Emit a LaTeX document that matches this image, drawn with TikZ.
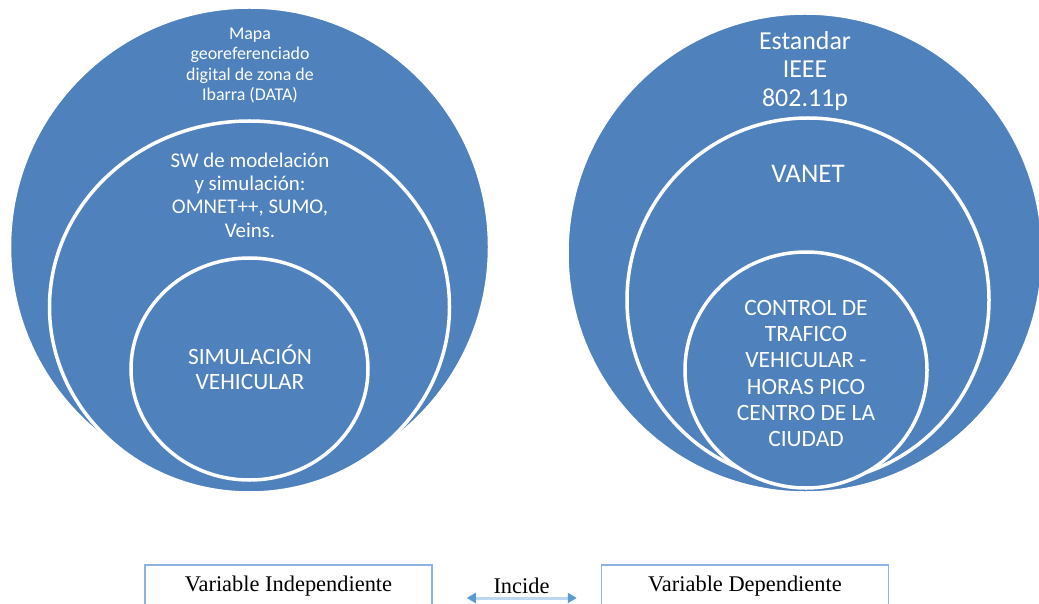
\documentclass[tikz,border=0pt]{standalone}
\usepackage{fontspec}
\setmainfont{Liberation Serif}
\newfontfamily\calibri{Carlito}
\usepackage{tikz}
\usepackage{xcolor}
\usetikzlibrary{arrows.meta}

\definecolor{target}{HTML}{4F81BD}
\definecolor{boxline}{HTML}{8EB4E3}
\definecolor{arrowline}{HTML}{BDD7EE}
\definecolor{arrowtip}{HTML}{5B9BD5}

\begin{document}
\begin{tikzpicture}[x=1bp,y=-1bp,
                    ring/.style={fill=target,draw=white,line width=3.5bp},
                    ringtext/.style={text=white,font=\calibri,align=center,inner sep=0pt},
                    varbox/.style={draw=boxline,line width=1.5bp,minimum width=287bp,
                                   minimum height=42bp,inner sep=0pt,font=\fontsize{22.5}{26}\selectfont},
                    biarrow/.style={{Triangle[length=9bp,width=10bp,color=arrowtip]}-{Triangle[length=9bp,width=10bp,color=arrowtip]},
                                    draw=arrowline,line width=3bp,shorten <=34bp,shorten >=24bp}]
  \useasboundingbox (0,0) rectangle (1039,604);

  % independiente
  \path[ring] (249.5,247) ellipse [x radius=240bp,y radius=240bp];
  \path[ring] (249.5,307) ellipse [x radius=200bp,y radius=186bp];
  \path[ring] (249.5,369) ellipse [x radius=118.5bp,y radius=111bp];

  % dependiente
  \path[ring] (805,253) ellipse [x radius=238bp,y radius=240bp];
  \path[ring] (808,300) ellipse [x radius=181bp,y radius=182bp];
  \path[ring] (806,370) ellipse [x radius=121bp,y radius=118bp];

  \node[ringtext,font=\calibri\fontsize{18}{20.5}\selectfont] (mapa) at (250,65.5)
        {Mapa\\georeferenciado\\digital de zona de\\Ibarra (DATA)};
  \node[ringtext,font=\calibri\fontsize{21}{23.5}\selectfont] (sw) at (250,195)
        {SW de modelación\\y simulación:\\OMNET++, SUMO,\\Veins.};
  \node[ringtext,font=\calibri\fontsize{23.5}{25}\selectfont] (simul) at (250,367.5)
        {SIMULACIÓN\\VEHICULAR};

  \node[ringtext,font=\calibri\fontsize{26}{29}\selectfont] (ieee) at (805,71)
        {Estandar\\IEEE\\802.11p};
  \node[ringtext,font=\calibri\fontsize{27}{30}\selectfont] (vanet) at (808,174) {VANET};
  \node[ringtext,font=\calibri\fontsize{23.5}{26.2}\selectfont] (control) at (806,373.5)
        {CONTROL DE\\TRAFICO\\VEHICULAR -\\HORAS PICO\\CENTRO DE LA\\CIUDAD};

  \node[varbox] (indep) at (288.5,586) {Variable Independiente};
  \node[varbox] (dep)   at (745,586)   {Variable Dependiente};
  \node[font=\fontsize{22.5}{26}\selectfont,inner sep=0pt] (incide) at (521.5,585.5) {Incide};

  \draw[biarrow] ([yshift=-12bp]indep.east) -- ([yshift=-12bp]dep.west);
\end{tikzpicture}
\end{document}
